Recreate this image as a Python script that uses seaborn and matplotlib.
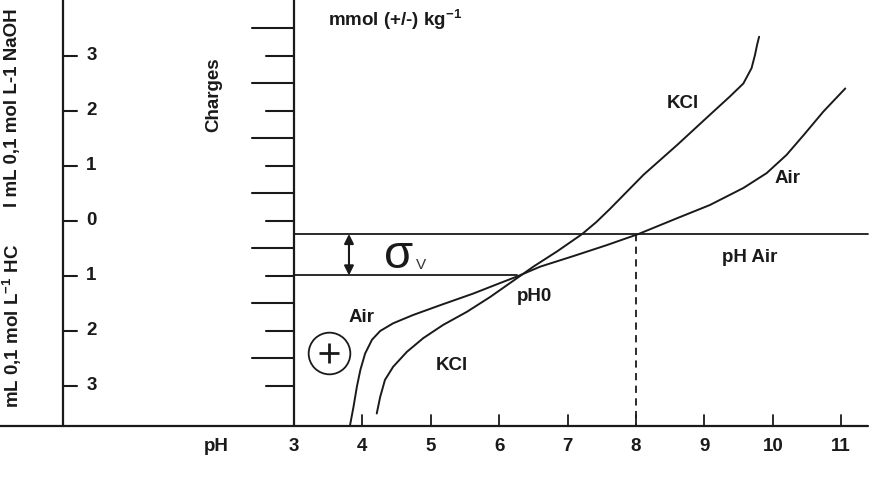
import pandas as pd
import matplotlib
matplotlib.use("Agg")
from matplotlib import pyplot as plt
import seaborn as sns

"""
Titration curves (charge vs pH) in air and in KCl, with pH0 and sigma_v.
"""

############### Data ##########################################
# charge values are in units of the left mL scale (0 at the middle tick)
ph_kcl = [4.21, 4.26, 4.33, 4.45, 4.65, 4.89, 5.18, 5.53, 5.87, 6.26, 6.50,
          6.85, 7.21, 7.42, 7.62, 8.11, 8.60, 9.08, 9.37, 9.57, 9.69, 9.74, 9.77, 9.80]
q_kcl = [-3.50, -3.20, -2.89, -2.65, -2.38, -2.13, -1.89, -1.65, -1.38, -1.04, -0.83,
         -0.55, -0.24, -0.02, 0.22, 0.84, 1.38, 1.93, 2.26, 2.50, 2.78, 3.02, 3.20, 3.35]
ph_air = [3.82, 3.87, 3.92, 3.97, 4.04, 4.14, 4.26, 4.45, 4.74, 5.14, 5.62,
          6.01, 6.26, 6.60, 7.08, 7.57, 8.03, 8.60, 9.08, 9.57, 9.91, 10.20,
          10.45, 10.74, 11.06]
q_air = [-3.71, -3.38, -3.01, -2.71, -2.41, -2.16, -2.00, -1.86, -1.71, -1.53, -1.32,
         -1.13, -1.01, -0.83, -0.64, -0.44, -0.24, 0.05, 0.29, 0.60, 0.87, 1.20,
         1.56, 1.99, 2.41]

ph_ticks = [3, 4, 5, 6, 7, 8, 9, 10, 11]
ml_ticks = [3, 2, 1, 0, -1, -2, -3]
ml_labels = ["3", "2", "1", "0", "1", "2", "3"]
charge_ticks = [3.5, 3.0, 2.5, 2.0, 1.5, 1.0, 0.5, 0.0, -0.5, -1.0, -1.5, -2.0, -2.5, -3.0]

ph0 = 6.26
q_ph0 = -0.99
ph_air_zero = 8.0
q_air_zero = -0.236

curves = pd.DataFrame({
    "pH": ph_kcl + ph_air,
    "charge": q_kcl + q_air,
    "medium": ["KCl"] * len(ph_kcl) + ["Air"] * len(ph_air),
})

############### Plotting #############################
sns.set_style("white")
plt.rcParams["font.family"] = ["Liberation Sans", "DejaVu Sans"]
plt.rcParams["mathtext.fontset"] = "custom"
plt.rcParams["mathtext.rm"] = "Liberation Sans"
plt.rcParams["mathtext.bf"] = "Liberation Sans:bold"

ink = "#1a1a1a"
fs = 13.5
fig = plt.figure(figsize=(8.76, 4.83), dpi=100)
ax = fig.add_axes([0, 0, 1, 1])
ax.set_xlim(-1.298, 11.509)
ax.set_ylim(-4.764, 4.018)
ax.axis("off")

sns.lineplot(data=curves, x="pH", y="charge", hue="medium", units="medium",
             estimator=None, sort=False, palette=[ink, ink], lw=1.4,
             legend=False, ax=ax)

y_bot = -3.727
# left mL scale
ax.plot([-0.377, -0.377], [y_bot, 4.1], color=ink, lw=1.6)
for v, lab in zip(ml_ticks, ml_labels):
    ax.plot([-0.377, -0.172], [v, v], color=ink, lw=1.5)
    ax.text(0.04, v, lab, ha="center", va="center", fontsize=fs,
            fontweight="bold", color=ink)

# charges scale at pH 3
ax.plot([3, 3], [y_bot, 4.1], color=ink, lw=1.6)
for i, v in enumerate(charge_ticks):
    x0 = 2.386 if i % 2 == 0 else 2.591
    ax.plot([x0, 3], [v, v], color=ink, lw=1.5)

# pH axis
ax.plot([-1.3, 11.39], [y_bot, y_bot], color=ink, lw=1.6)
for p in ph_ticks:
    if p > 3:
        ax.plot([p, p], [y_bot, -3.527], color=ink, lw=1.3)
    ax.text(p, -4.109, str(p), ha="center", va="center", fontsize=fs,
            fontweight="bold", color=ink)
ax.text(1.86, -4.109, "pH", ha="center", va="center", fontsize=fs,
        fontweight="bold", color=ink)

# reference lines
ax.plot([3, 11.39], [q_air_zero, q_air_zero], color=ink, lw=1.3)
ax.plot([3, ph0], [q_ph0, q_ph0], color=ink, lw=1.3)
ax.plot([ph_air_zero, ph_air_zero], [q_air_zero, y_bot], color=ink, lw=1.3,
        ls=(0, (4, 3)))
ax.annotate("", xy=(3.804, q_air_zero), xytext=(3.804, q_ph0),
            arrowprops=dict(arrowstyle="<|-|>", color=ink, lw=1.5,
                            mutation_scale=14, shrinkA=0, shrinkB=0))
ax.text(4.535, -0.64, "σ", ha="center", va="center", fontsize=34, color=ink)
ax.text(4.85, -0.80, "V", ha="center", va="center", fontsize=11, color="#333333")

# charge sign
ax.plot(3.512, -2.4, marker="o", ms=30, mfc="none", mec=ink, mew=1.3)
ax.plot(3.512, -2.4, marker="+", ms=15, mec=ink, mew=2.0)

# labels
bold = dict(fontsize=fs, fontweight="bold", color=ink)
ax.text(3.50, 3.655, r"mmol (+/-) kg$^{\mathbf{-1}}$", ha="left", va="center", **bold)
ax.text(1.83, 2.29, "Charges", rotation=90, ha="center", va="center", **bold)
ax.text(-1.118, -3.40, r"mL 0,1 mol L$^{\mathbf{-1}}$ HC", rotation=90,
        ha="center", va="bottom", **bold)
ax.text(-1.118, 0.255, "l mL 0,1 mol L-1 NaOH", rotation=90,
        ha="center", va="bottom", **bold)
ax.text(8.69, 2.145, "KCl", ha="center", va="center", **bold)
ax.text(10.22, 0.764, "Air", ha="center", va="center", **bold)
ax.text(9.667, -0.655, "pH Air", ha="center", va="center", **bold)
ax.text(6.52, -1.38, "pH0", ha="center", va="center", **bold)
ax.text(3.994, -1.76, "Air", ha="center", va="center", **bold)
ax.text(5.31, -2.62, "KCl", ha="center", va="center", **bold)

fig.savefig("out.png", dpi=100)
